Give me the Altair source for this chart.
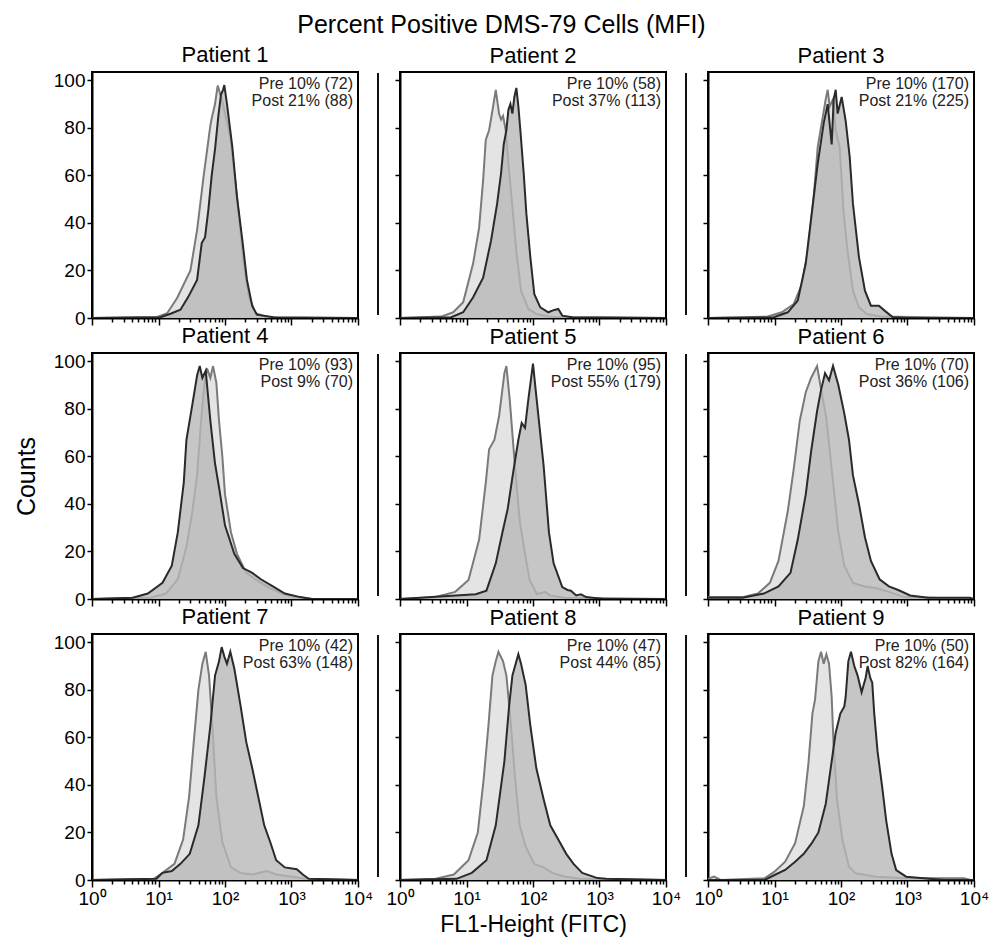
import altair as alt
import pandas as pd

FONT = "Liberation Sans"

PATIENTS = ["Patient 1", "Patient 2", "Patient 3", "Patient 4", "Patient 5",
            "Patient 6", "Patient 7", "Patient 8", "Patient 9"]
PRE_LABELS = ["Pre 10% (72)", "Pre 10% (58)", "Pre 10% (170)", "Pre 10% (93)", "Pre 10% (95)",
              "Pre 10% (70)", "Pre 10% (42)", "Pre 10% (47)", "Pre 10% (50)"]
POST_LABELS = ["Post 21% (88)", "Post 37% (113)", "Post 21% (225)", "Post 9% (70)", "Post 55% (179)",
               "Post 36% (106)", "Post 63% (148)", "Post 44% (85)", "Post 82% (164)"]

# Histogram outlines: position in decades (log10 of FL1-Height) and counts
P1_PRE_LOG = [0, 0.98, 1.13, 1.28, 1.48, 1.58, 1.68, 1.78, 1.80, 1.85, 1.89, 1.93, 1.97, 2.08, 2.18, 2.28, 2.36, 2.46, 2.63, 2.83, 4]
P1_PRE_CNT = [0, 0.4, 2, 8.4, 20, 37, 60, 81, 84, 90, 97.8, 94, 90, 76, 51, 23, 9, 2, 0.4, 0, 0]
P1_POST_LOG = [0, 1.03, 1.18, 1.33, 1.45, 1.58, 1.65, 1.70, 1.75, 1.80, 1.85, 1.90, 1.94, 1.97, 1.99, 2.03, 2.11, 2.18, 2.26, 2.33, 2.41, 2.48, 2.73, 4]
P1_POST_CNT = [0, 0.3, 1.8, 3.5, 9, 16, 31.5, 34, 45.6, 60, 71, 85, 94, 96, 98, 90, 72, 51, 33, 16, 5, 1.4, 0.3, 0]

P2_PRE_LOG = [0, 0.62, 0.80, 0.95, 1.10, 1.19, 1.25, 1.29, 1.34, 1.40, 1.44, 1.49, 1.52, 1.55, 1.59, 1.63, 1.69, 1.75, 1.82, 1.93, 2.05, 2.23, 2.41, 4]
P2_PRE_CNT = [0, 0.6, 2.4, 6.6, 23, 38, 58, 75, 79, 89, 96, 86, 83.5, 85, 79, 65, 47, 28, 11.5, 3.8, 1.7, 0.6, 0.3, 0]
P2_POST_LOG = [0, 0.77, 0.95, 1.10, 1.25, 1.37, 1.46, 1.52, 1.56, 1.60, 1.63, 1.66, 1.69, 1.72, 1.75, 1.78, 1.81, 1.86, 1.90, 1.96, 2.02, 2.11, 2.23, 2.32, 2.38, 2.44, 2.59, 4]
P2_POST_CNT = [0, 0.3, 2.4, 8.7, 17, 32.7, 48, 61, 73, 79, 87.6, 90, 86, 93, 96.8, 89, 79, 61, 44, 25.6, 10, 4.5, 2.4, 3.4, 3.8, 1, 0.3, 0]

P3_PRE_LOG = [0, 0.90, 1.11, 1.29, 1.41, 1.50, 1.59, 1.65, 1.71, 1.77, 1.80, 1.83, 1.88, 1.92, 1.98, 2.04, 2.10, 2.18, 2.27, 2.39, 2.60, 4]
P3_PRE_CNT = [0, 0.6, 2.4, 5.9, 14, 28, 51, 72, 82, 92, 96, 89, 92, 79, 72, 44, 28, 11.5, 4.5, 1.7, 0.6, 0]
P3_POST_LOG = [0, 0.99, 1.20, 1.35, 1.47, 1.56, 1.65, 1.74, 1.80, 1.86, 1.89, 1.92, 1.95, 2.01, 2.07, 2.13, 2.18, 2.27, 2.36, 2.45, 2.57, 2.66, 2.78, 3.0, 4]
P3_POST_CNT = [0, 0.3, 2.4, 7.3, 23, 44, 65, 82, 90, 73, 92, 96, 86, 93, 83, 68, 48, 25.6, 11.5, 5.2, 5.2, 3, 0.3, 0, 0]

P4_PRE_LOG = [0, 0.88, 1.11, 1.29, 1.42, 1.51, 1.58, 1.64, 1.69, 1.73, 1.78, 1.82, 1.87, 1.91, 1.96, 2.00, 2.09, 2.18, 2.32, 2.50, 2.68, 2.86, 3.04, 3.31, 4]
P4_PRE_CNT = [0, 0.5, 2.3, 8.3, 22, 37, 52, 75, 90, 97, 93, 98, 91, 75, 60, 44, 28, 19, 11, 7.5, 4.5, 2.3, 0.8, 0, 0]
P4_POST_LOG = [0, 0.61, 0.84, 1.06, 1.20, 1.29, 1.38, 1.42, 1.51, 1.58, 1.62, 1.66, 1.71, 1.78, 1.85, 1.91, 2.00, 2.14, 2.27, 2.41, 2.54, 2.72, 2.90, 3.13, 3.31, 4]
P4_POST_CNT = [0, 0.5, 2.3, 6.8, 14, 28, 49, 67, 82, 94, 98, 93, 96, 75, 57, 47, 31, 19, 13, 11, 8.3, 5.3, 2.3, 0.8, 0, 0]

P5_PRE_LOG = [0, 0.52, 0.83, 1.03, 1.19, 1.29, 1.34, 1.42, 1.49, 1.57, 1.60, 1.65, 1.70, 1.75, 1.80, 1.88, 1.95, 2.06, 2.18, 2.26, 2.47, 4]
P5_PRE_CNT = [0, 0.7, 3, 8, 25, 49, 63, 67, 77, 95, 98, 84, 66, 49, 33, 19, 8, 2, 3, 1.4, 0.5, 0]
P5_POST_LOG = [0, 1.14, 1.30, 1.44, 1.54, 1.62, 1.70, 1.78, 1.83, 1.88, 1.93, 2.0, 2.04, 2.10, 2.16, 2.24, 2.31, 2.44, 2.52, 2.57, 2.65, 2.72, 2.80, 3.06, 4]
P5_POST_CNT = [0, 2, 3.5, 15, 28, 38, 53, 67, 74, 72, 84, 99, 88, 72, 56, 28, 15, 5, 3.8, 3.5, 1.5, 2, 0.8, 0, 0]

P6_PRE_LOG = [0, 0.52, 0.75, 0.93, 1.06, 1.20, 1.29, 1.38, 1.47, 1.55, 1.64, 1.69, 1.78, 1.87, 1.96, 2.05, 2.18, 2.36, 2.54, 2.72, 2.95, 4]
P6_PRE_CNT = [0.8, 0.8, 2.3, 6.8, 16, 37, 55, 75, 87, 93, 98, 90, 76, 52, 28, 14, 6.8, 5.3, 4.5, 3, 0.8, 0]
P6_POST_LOG = [0, 0.52, 0.84, 1.06, 1.24, 1.35, 1.47, 1.55, 1.64, 1.70, 1.76, 1.82, 1.88, 1.96, 2.05, 2.12, 2.18, 2.27, 2.36, 2.45, 2.58, 2.72, 2.86, 3.04, 3.31, 3.94, 4]
P6_POST_CNT = [0.5, 0.5, 2.3, 5.3, 11, 25, 44, 62, 79, 88, 95, 92, 98, 90, 78, 67, 52, 40, 26, 16, 8.3, 5.3, 3.8, 1.5, 0.5, 0.5, 0]

P7_PRE_LOG = [0, 0.93, 1.06, 1.24, 1.37, 1.46, 1.53, 1.60, 1.66, 1.71, 1.76, 1.81, 1.87, 1.96, 2.09, 2.23, 2.41, 2.63, 2.77, 2.99, 3.22, 4]
P7_PRE_CNT = [0, 0.5, 3, 6.8, 17, 35, 58, 80, 91, 96, 86, 65, 35, 16, 5.3, 3, 2.3, 3.8, 2.3, 1.5, 0.5, 0]
P7_POST_LOG = [0, 0.97, 1.06, 1.20, 1.33, 1.47, 1.60, 1.69, 1.78, 1.85, 1.91, 1.95, 1.99, 2.03, 2.08, 2.14, 2.23, 2.32, 2.41, 2.50, 2.59, 2.68, 2.77, 2.90, 3.08, 3.17, 3.26, 4]
P7_POST_CNT = [0, 0.5, 3, 3.8, 6.8, 11, 23, 43, 65, 86, 92, 98, 94, 91, 96, 89, 74, 58, 47, 35, 23, 16, 8.3, 5.3, 4.5, 2.3, 0.5, 0]

P8_PRE_LOG = [0, 0.54, 0.81, 1.03, 1.17, 1.26, 1.33, 1.39, 1.44, 1.48, 1.55, 1.60, 1.66, 1.73, 1.80, 1.89, 2.02, 2.16, 2.29, 2.47, 2.70, 4]
P8_PRE_CNT = [0, 0.5, 2.3, 8.3, 20, 43, 65, 86, 92, 96, 92, 86, 68, 43, 23, 14, 6.8, 5.3, 3, 1.5, 0.5, 0]
P8_POST_LOG = [0, 0.85, 1.08, 1.30, 1.44, 1.57, 1.64, 1.69, 1.73, 1.78, 1.82, 1.89, 1.96, 2.05, 2.16, 2.26, 2.38, 2.50, 2.61, 2.74, 2.97, 3.10, 4]
P8_POST_CNT = [0, 0.5, 3, 8.3, 23, 50, 73, 86, 90, 95, 91, 82, 65, 47, 34, 23, 17, 11, 6.8, 3, 0.8, 0.5, 0]

P9_PRE_LOG = [0, 0.09, 0.19, 0.85, 1.00, 1.16, 1.31, 1.44, 1.51, 1.57, 1.61, 1.66, 1.70, 1.74, 1.78, 1.82, 1.86, 1.89, 1.94, 2.02, 2.12, 2.22, 2.53, 2.98, 3.85, 3.95, 4]
P9_PRE_CNT = [0.5, 1.4, 0, 0.7, 3.5, 7.7, 15.5, 31, 49, 70, 76, 92, 96, 91, 95, 91, 77, 56, 34, 17, 5.6, 2.8, 1.4, 0.7, 0.7, 0, 0]
P9_POST_LOG = [0, 0.85, 1.00, 1.16, 1.31, 1.44, 1.56, 1.66, 1.77, 1.84, 1.92, 1.99, 2.05, 2.07, 2.11, 2.15, 2.20, 2.25, 2.31, 2.37, 2.40, 2.44, 2.47, 2.50, 2.55, 2.62, 2.68, 2.76, 2.83, 2.98, 3.24, 3.54, 4]
P9_POST_CNT = [0, 0, 2.1, 4.2, 7.7, 11, 15.5, 20, 32, 46, 62, 70, 73, 77, 92, 96, 90, 86, 79, 85, 90, 85, 83, 70, 54, 39, 25, 11, 4.2, 1.4, 0.7, 0, 0]

CURVES = [
    (P1_PRE_LOG, P1_PRE_CNT, P1_POST_LOG, P1_POST_CNT),
    (P2_PRE_LOG, P2_PRE_CNT, P2_POST_LOG, P2_POST_CNT),
    (P3_PRE_LOG, P3_PRE_CNT, P3_POST_LOG, P3_POST_CNT),
    (P4_PRE_LOG, P4_PRE_CNT, P4_POST_LOG, P4_POST_CNT),
    (P5_PRE_LOG, P5_PRE_CNT, P5_POST_LOG, P5_POST_CNT),
    (P6_PRE_LOG, P6_PRE_CNT, P6_POST_LOG, P6_POST_CNT),
    (P7_PRE_LOG, P7_PRE_CNT, P7_POST_LOG, P7_POST_CNT),
    (P8_PRE_LOG, P8_PRE_CNT, P8_POST_LOG, P8_POST_CNT),
    (P9_PRE_LOG, P9_PRE_CNT, P9_POST_LOG, P9_POST_CNT),
]

X_TICKS = [m * 10 ** e for e in range(4) for m in range(1, 10)] + [10000]
Y_TICKS = [0, 20, 40, 60, 80, 100]

W, H = 266, 246
PRE_FILL, PRE_LINE = "#e4e4e4", "#7a7a7a"
POST_FILL, POST_LINE = "#b8b8b8", "#2a2a2a"

MAJOR_TEST = "datum.value == 1 || datum.value == 10 || datum.value == 100 || datum.value == 1000 || datum.value == 10000"
LABEL_EXPR = ("datum.value == 1 ? '10⁰' : datum.value == 10 ? '10¹' : datum.value == 100 ? '10²' : "
              "datum.value == 1000 ? '10³' : datum.value == 10000 ? '10⁴' : ''")


def series_frame(logs, counts):
    return pd.DataFrame({"fl1": [10 ** v for v in logs], "count": counts})


def panel(i):
    row, col = divmod(i, 3)
    pre_log, pre_cnt, post_log, post_cnt = CURVES[i]
    pre = series_frame(pre_log, pre_cnt)
    post = series_frame(post_log, post_cnt)

    x_axis = alt.Axis(
        values=X_TICKS, labelExpr=LABEL_EXPR, labels=(row == 2), grid=False,
        labelFlush=False, labelOverlap=False, labelFontSize=19, labelPadding=2,
        tickSize={"condition": {"test": MAJOR_TEST, "value": 7}, "value": 4},
        tickColor="black", tickWidth=1.5, domainColor="black", domainWidth=2,
        titleFontSize=23, titleFontWeight="normal", titlePadding=5,
    )
    y_axis = alt.Axis(
        values=Y_TICKS, labels=(col == 0), grid=False, labelFontSize=19, labelPadding=2,
        tickSize=5, tickColor="black", tickWidth=1.5, domainColor="black", domainWidth=2,
        titleFontSize=25, titleFontWeight="normal", titlePadding=14,
    )
    x_title = "FL1-Height (FITC)" if i == 7 else None
    y_title = "Counts" if i == 3 else None
    x = alt.X("fl1:Q", scale=alt.Scale(type="log", domain=[1, 10000]), axis=x_axis, title=x_title)
    y = alt.Y("count:Q", scale=alt.Scale(domain=[0, 103.5], nice=False, zero=True), axis=y_axis, title=y_title)

    pre_area = alt.Chart(pre).mark_area(color=PRE_FILL, opacity=1, clip=True).encode(x=x, y=y)
    pre_line = alt.Chart(pre).mark_line(color=PRE_LINE, strokeWidth=2, clip=True).encode(x=x, y=y)
    post_area = alt.Chart(post).mark_area(color=POST_FILL, opacity=0.8, clip=True).encode(x=x, y=y)
    post_line = alt.Chart(post).mark_line(color=POST_LINE, strokeWidth=2, clip=True).encode(x=x, y=y)

    ann = pd.DataFrame({"pre": [PRE_LABELS[i]], "post": [POST_LABELS[i]]})
    t1 = alt.Chart(ann).mark_text(align="right", baseline="middle", fontSize=16, color="#222").encode(
        x=alt.value(W - 5), y=alt.value(12), text="pre:N")
    t2 = alt.Chart(ann).mark_text(align="right", baseline="middle", fontSize=16, color="#222").encode(
        x=alt.value(W - 5), y=alt.value(29), text="post:N")

    layers = [pre_area, pre_line, post_area, post_line, t1, t2]
    if col > 0:
        sep = alt.Chart(ann).mark_rule(color="#111", strokeWidth=2).encode(
            x=alt.value(-22), y=alt.value(1), y2=alt.value(H - 3))
        layers.append(sep)

    return alt.layer(*layers).properties(
        width=W, height=H,
        title=alt.TitleParams(PATIENTS[i], fontSize=22, fontWeight="normal", offset=4, color="black"),
    )


chart = alt.concat(
    *[panel(i) for i in range(9)], columns=3, spacing={"row": 35, "column": 42}, bounds="flush"
).properties(
    title=alt.TitleParams("Percent Positive DMS-79 Cells (MFI)", fontSize=25, fontWeight="normal",
                          anchor="middle", offset=5, color="black"),
    padding={"left": 5, "top": 5, "right": 3, "bottom": 0},
).configure(font=FONT).configure_view(stroke="black", strokeWidth=2).configure_axis(
    labelColor="black", titleColor="black", labelFont=FONT, titleFont=FONT
)

chart.save("out.html", embed_options={"renderer": "svg", "actions": False})
